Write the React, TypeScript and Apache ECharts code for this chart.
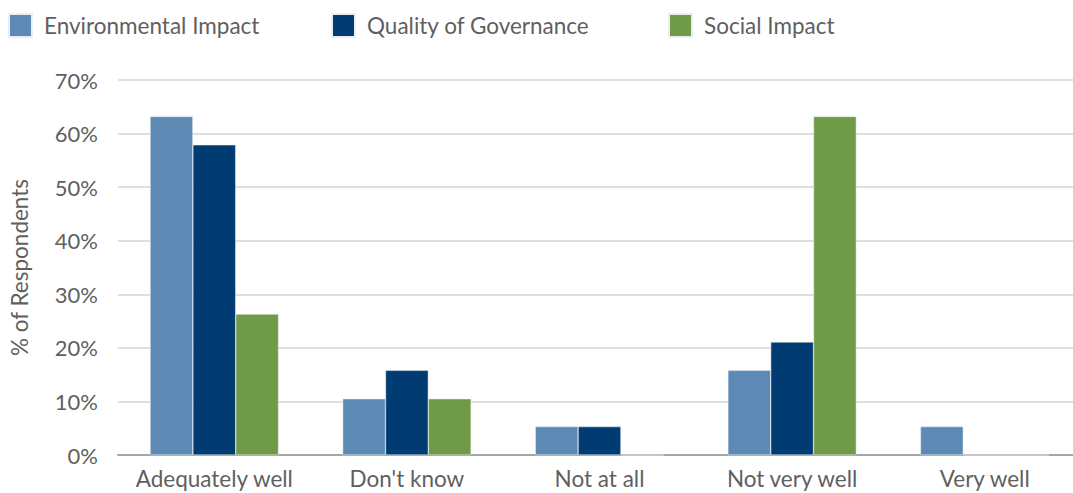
import React, { useEffect, useRef } from "react";
import * as echarts from "echarts";

const categories = ["Adequately well", "Don't know", "Not at all", "Not very well", "Very well"];
const environmental = [63.2, 10.5, 5.3, 15.8, 5.3];
const governance = [57.9, 15.8, 5.3, 21.1, 0];
const social = [26.3, 10.5, 0, 63.2, 0];
const seriesNames = ["Environmental Impact", "Quality of Governance", "Social Impact"];
const colors = ["#5d8ab5", "#003b71", "#6f9a48"];

export default function App() {
  const ref = useRef<HTMLDivElement>(null);
  useEffect(() => {
    if (!ref.current) return;
    const chart = echarts.init(ref.current, undefined, { renderer: "svg" });
    const font = "Lato, 'Noto Sans', sans-serif";
    const legendLefts = [8, 331, 668];
    chart.setOption({
      animation: false,
      textStyle: { fontFamily: font },
      legend: seriesNames.map((n, i) => ({
        data: [n],
        left: legendLefts[i],
        top: 13,
        itemWidth: 23,
        itemHeight: 23,
        icon: "rect",
        padding: 0,
        selectedMode: false,
        textStyle: { fontSize: 22.5, color: "#5f5f5f", fontFamily: font, padding: [0, 0, 0, 7] },
      })),
      grid: {
        left: 118,
        width: 963,
        top: 80,
        height: 375,
        containLabel: false,
        outerBoundsMode: "none",
      },
      xAxis: {
        type: "category",
        data: categories,
        axisTick: { show: false },
        axisLine: { lineStyle: { color: "#a6a6a6", width: 2 } },
        axisLabel: { fontSize: 22.5, color: "#5f5f5f", margin: 12, fontFamily: font, interval: 0 },
      },
      yAxis: {
        type: "value",
        min: 0,
        max: 70,
        interval: 10,
        name: "% of Respondents",
        nameLocation: "middle",
        nameGap: 87,
        nameTextStyle: { fontSize: 22.5, color: "#5f5f5f", fontFamily: font },
        axisLabel: { fontSize: 22, color: "#5f5f5f", margin: 20, formatter: "{value}%", fontFamily: font },
        splitLine: { lineStyle: { color: "#d4d4d4", width: 1.5 } },
        axisLine: { show: false },
        axisTick: { show: false },
      },
      series: [environmental, governance, social].map((d, i) => ({
        name: seriesNames[i],
        type: "bar",
        data: d,
        barGap: "0%",
        barCategoryGap: "33.3%",
        itemStyle: { color: colors[i], borderColor: "#e8eef4", borderWidth: 0.5 },
      })),
    });
    return () => chart.dispose();
  }, []);
  return (
    <div
      ref={ref}
      style={{ position: "fixed", left: 0, top: 0, width: 1073, height: 493, background: "#fff" }}
    />
  );
}
